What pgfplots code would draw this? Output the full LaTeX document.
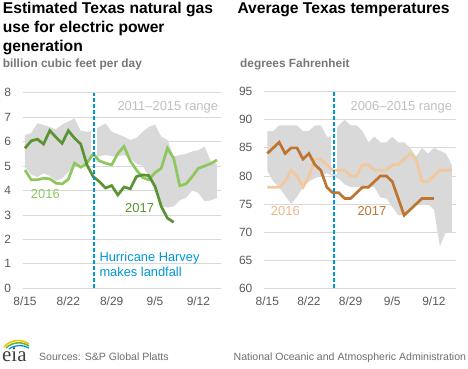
\documentclass[border=0pt]{standalone}
\usepackage{pgfplots}
\pgfplotsset{compat=1.18}
\usepackage{fontspec}
\setmainfont{Liberation Sans}
\newfontfamily\serifeia{Liberation Serif}
\definecolor{gridc}{HTML}{D9D9D9}
\definecolor{bandc}{HTML}{D9D9D9}
\definecolor{tickc}{HTML}{595959}
\definecolor{subc}{HTML}{767676}
\definecolor{rangec}{HTML}{BFBFBF}
\definecolor{lgreen}{HTML}{8DC75E}
\definecolor{dgreen}{HTML}{5A9331}
\definecolor{lpeach}{HTML}{F2C89C}
\definecolor{peachtxt}{HTML}{EBB987}
\definecolor{dorange}{HTML}{BF7430}
\definecolor{eiablue}{HTML}{0096D6}
\definecolor{srcc}{HTML}{6E6E6E}
\definecolor{eiayellow}{HTML}{F5C400}
\definecolor{eiagreen}{HTML}{6DB33F}

\pgfplotsset{
  common/.style={
    scale only axis,
    anchor=south west,
    axis line style={draw=none},
    major tick length=0pt,
    ymajorgrids, major grid style={gridc, line width=0.8bp},
    xtick={0,7,14,21,28},
    xticklabels={8/15,8/22,8/29,9/5,9/12},
    tick label style={font=\fontsize{12}{14}\selectfont, text=tickc},
    /pgf/number format/assume math mode=true,
    yticklabel style={anchor=east, inner sep=0pt, xshift=-11.5bp},
    xticklabel style={anchor=north, inner sep=0pt, yshift=-8.5bp},
    clip=false,
  },
}

\begin{document}
\begin{tikzpicture}[x=1bp,y=1bp]
\useasboundingbox (0,0) rectangle (468,368);

% ---------- left panel ----------
\begin{axis}[common, at={(22.7bp,79.7bp)}, width=198bp, height=195.6bp,
  xmin=-0.37, xmax=31.6, ymin=0, ymax=8, ytick={0,1,...,8}]
\addplot[fill=bandc, draw=none] coordinates {
(0,6.27)(1,6.35)(2,6.75)(3,6.68)(4,6.6)(5,6.5)(6,6.7)(7,6.82)(8,6.95)(9,6.45)
(10,6.4)(11,6.45)(12,6.6)(13,6.75)(14,6.4)(15,6.3)(16,6.2)(17,6.07)(18,6.15)(19,6.4)
(20,6.6)(21,6.7)(22,6.2)(23,6.07)(24,5.4)(25,5.45)(26,5.5)(27,5.6)(28,5.65)(29,5.8)
(30,5.2)(31,5.1)
(31,3.7)(30,3.6)(29,3.55)(28,3.9)(27,4.0)(26,3.7)(25,3.6)(24,3.35)(23,3.3)(22,3.35)
(21,4.1)(20,4.6)(19,5.0)(18,5.1)(17,5.3)(16,5.45)(15,5.4)(14,5.4)(13,5.45)(12,5.4)
(11,5.3)(10,5.2)(9,5.05)(8,5.0)(7,4.75)(6,4.5)(5,4.4)(4,4.6)(3,4.7)(2,4.55)(1,4.65)(0,4.95)
} -- cycle;
\addplot[white, line width=6bp] coordinates {(11.17,5.1)(11.17,6.9)};
\addplot[lgreen, line width=2.7bp] coordinates {
(0,4.84)(1,4.44)(2,4.44)(3,4.5)(4,4.48)(5,4.3)(6,4.27)(7,4.46)(8,5.12)(9,4.95)
(10,5.12)(11,5.5)(12,5.21)(13,5.12)(14,5.05)(15,5.52)(16,5.8)(17,5.21)(18,4.84)(19,4.53)
(20,4.44)(21,4.73)(22,4.91)(23,5.73)(24,5.32)(25,4.19)(26,4.27)(27,4.57)(28,4.91)(29,5.0)
(30,5.1)(31,5.25)};
\addplot[dgreen, line width=2.7bp] coordinates {
(0,5.73)(1,6.03)(2,6.1)(3,5.9)(4,6.45)(5,6.18)(6,5.93)(7,6.45)(8,6.14)(9,5.9)
(10,5.05)(11,4.57)(12,4.37)(13,4.1)(14,4.2)(15,3.82)(16,4.14)(17,4.07)(18,4.57)(19,4.64)
(20,4.61)(21,4.16)(22,3.35)(23,2.87)(24,2.7)};
\addplot[eiablue, line width=2.2bp, dash pattern=on 4bp off 2bp] coordinates {(11.17,0)(11.17,8)};
\end{axis}

% ---------- right panel ----------
\begin{axis}[common, at={(264bp,79.7bp)}, width=191.7bp, height=196.6bp,
  xmin=-0.55, xmax=31.66, ymin=60, ymax=95, ytick={60,65,...,95}]
\addplot[fill=bandc, draw=none] coordinates {
(0,88)(1,88)(2,89)(3,89)(4,89)(5,89)(6,88)(7,88)(8,89)(9,89)
(10,87)(11,87)(12,89)(13,90)(14,89)(15,89)(16,88)(17,86)(18,87)(19,86)
(20,86)(21,87)(22,86)(23,86)(24,85)(25,83.5)(26,85)(27,84)(28,85)(29,84.5)
(30,84)(31,82)
(31,70)(30,70)(29,67.5)(28,74)(27,75)(26,75)(25,75)(24,74.5)(23,73)(22,73)
(21,74.5)(20,76)(19,76.2)(18,78)(17,78)(16,78)(15,78)(14,78)(13,78.5)(12,79.5)
(11,80)(10,80.5)(9,80)(8,79.6)(7,79)(6,78)(5,76.3)(4,75)(3,76.5)(2,78)(1,79)(0,81)
} -- cycle;
\addplot[white, line width=6bp] coordinates {(11.17,80.3)(11.17,89.8)};
\addplot[lpeach, line width=2.7bp] coordinates {
(0,78)(1,78)(2,78)(3,79)(4,81)(5,80)(6,78)(7,80)(8,83)(9,83)
(10,82)(11,81)(12,81)(13,81)(14,80)(15,80)(16,82)(17,82)(18,81)(19,81)
(20,81)(21,82)(22,82)(23,83)(24,84)(25,83)(26,79)(27,79)(28,80)(29,81)
(30,81)(31,81)};
\addplot[dorange, line width=2.7bp] coordinates {
(0,84)(1,85)(2,86)(3,84)(4,85)(5,85)(6,83)(7,84)(8,82)(9,81)
(10,78)(11,77)(12,77)(13,76)(14,76)(15,77)(16,78)(17,78)(18,79)(19,80)
(20,80)(21,79)(22,76)(23,73)(24,74)(25,75)(26,76)(27,76)(28,76)};
\addplot[eiablue, line width=2.2bp, dash pattern=on 4bp off 2bp] coordinates {(11.17,60)(11.17,95)};
\end{axis}

% ---------- titles ----------
\begin{scope}[every node/.style={inner sep=0pt}]
\node[anchor=base west, font=\fontsize{15.7}{19}\selectfont\bfseries] at (2.7,354.5) {Estimated Texas natural gas};
\node[anchor=base west, font=\fontsize{15.7}{19}\selectfont\bfseries] at (2.7,335.5) {use for electric power};
\node[anchor=base west, font=\fontsize{15.7}{19}\selectfont\bfseries] at (2.7,316.5) {generation};
\node[anchor=base west, font=\fontsize{11.9}{14}\selectfont\bfseries, text=subc] at (2.7,300.3) {billion cubic feet per day};
\node[anchor=base west, font=\fontsize{15.7}{19}\selectfont\bfseries] at (237.3,354.5) {Average Texas temperatures};
\node[anchor=base west, font=\fontsize{11.9}{14}\selectfont\bfseries, text=subc] at (240,300.3) {degrees Fahrenheit};

% in-plot labels
\node[anchor=base east, font=\fontsize{13}{15}\selectfont, text=rangec] at (218.3,257.5) {2011–2015 range};
\node[anchor=base east, font=\fontsize{13}{15}\selectfont, text=rangec] at (452.3,258) {2006–2015 range};
\node[anchor=base west, font=\fontsize{13}{15}\selectfont, text=lgreen] at (30.7,169.7) {2016};
\node[anchor=base west, font=\fontsize{13}{15}\selectfont, text=dgreen] at (125,156) {2017};
\node[anchor=base west, font=\fontsize{13}{15}\selectfont, text=peachtxt] at (270.7,153) {2016};
\node[anchor=base west, font=\fontsize{13}{15}\selectfont, text=dorange] at (357.3,153) {2017};
\node[anchor=base west, font=\fontsize{12.9}{15}\selectfont, text=eiablue] at (99.3,106.3) {Hurricane Harvey};
\node[anchor=base west, font=\fontsize{12.9}{15}\selectfont, text=eiablue] at (99.3,91.3) {makes landfall};

% footer
\node[anchor=base west, font=\fontsize{10.6}{12}\selectfont, text=srcc] at (39,7.2) {Sources: S\&P Global Platts};
\node[anchor=base east, font=\fontsize{10.6}{12}\selectfont, text=srcc] at (466.3,7.2) {National Oceanic and Atmospheric Administration};
\node[anchor=base west, font=\fontsize{21}{22}\selectfont\serifeia, text=black!75] at (2,7) {eia};
\end{scope}
\draw[eiayellow, line width=1.6bp] (4,21) .. controls (11,29) and (22,29) .. (29,24);
\draw[eiagreen, line width=1.6bp] (6,20) .. controls (13,26.5) and (22,26.5) .. (29,22);
\draw[eiablue, line width=1.3bp] (9,19) .. controls (15,23.5) and (23,23.5) .. (29,20);
\end{tikzpicture}
\end{document}
